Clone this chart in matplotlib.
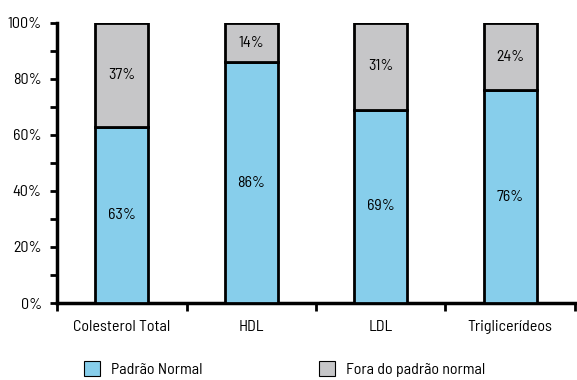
import matplotlib
matplotlib.use("Agg")
import matplotlib.pyplot as plt
from matplotlib.patches import Patch
from matplotlib.ticker import MultipleLocator, FuncFormatter

categories = ["Colesterol Total", "HDL", "LDL", "Triglicerídeos"]
normal = [63, 86, 69, 76]
fora = [37, 14, 31, 24]
series_names = ["Padrão Normal", "Fora do padrão normal"]

plt.rcParams['font.family'] = ['Barlow Semi Condensed', 'DejaVu Sans']
plt.rcParams['font.size'] = 11.5

fig = plt.figure(figsize=(5.77, 3.80), dpi=100)
ax = fig.add_axes([0.0988, 0.2026, 0.8977, 0.737])

blue = "#87CEEB"
gray = "#C6C6C8"
x = range(len(categories))
w = 0.41
ax.bar(x, normal, w, color=blue, edgecolor="black", linewidth=2, zorder=3)
ax.bar(x, fora, w, bottom=normal, color=gray, edgecolor="black", linewidth=2, zorder=3)

for i in x:
    ax.text(i, normal[i] / 2, f"{normal[i]}%", ha="center", va="center")
    ax.text(i, normal[i] + fora[i] / 2, f"{fora[i]}%", ha="center", va="center")

ax.set_xlim(-0.5, 3.5)
ax.set_ylim(0, 100)
ax.yaxis.set_major_locator(MultipleLocator(20))
ax.yaxis.set_minor_locator(MultipleLocator(10))
ax.yaxis.set_major_formatter(FuncFormatter(lambda v, p: f"{int(v)}%"))
ax.set_xticks(list(x))
ax.set_xticklabels(categories)
ax.set_xticks([-0.5, 0.5, 1.5, 2.5, 3.5], minor=True)
ax.tick_params(axis="x", which="major", length=0, pad=12)
ax.tick_params(axis="x", which="minor", length=6, width=2, direction="out")
ax.tick_params(axis="y", which="both", length=5, width=2, direction="out", pad=6)
ax.spines["top"].set_visible(False)
ax.spines["right"].set_visible(False)
ax.spines["left"].set_linewidth(2.5)
ax.spines["bottom"].set_linewidth(2.5)

handles = [Patch(facecolor=blue, edgecolor="black", linewidth=0.8),
           Patch(facecolor=gray, edgecolor="black", linewidth=0.8)]
fig.legend(handles, series_names, loc="lower left", bbox_to_anchor=(0.12, -0.03),
           ncol=2, frameon=False, columnspacing=7.3, handlelength=1.0, handleheight=1.0,
           handletextpad=0.7)

fig.savefig("out.png", dpi=100)
